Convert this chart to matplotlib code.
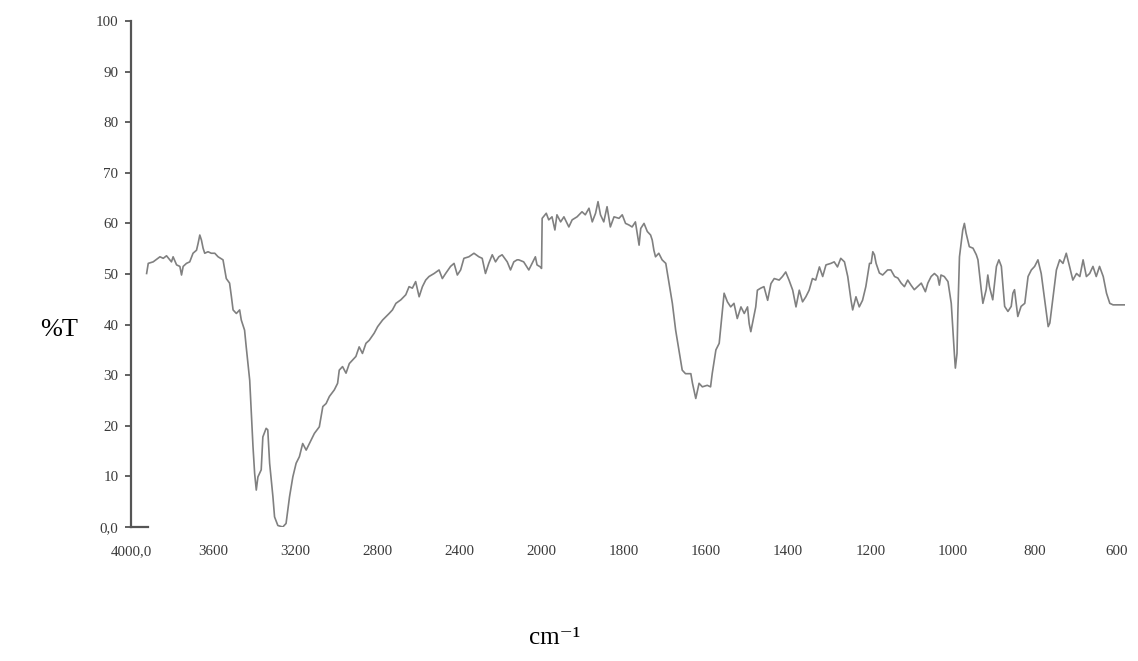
import numpy as np
import matplotlib
matplotlib.use("Agg")
import matplotlib.pyplot as plt

# IR spectrum, %T vs wavenumber
# 4000-2100 cm-1 : O-H / N-H region
wn_high = [3924, 3916, 3892, 3859, 3843, 3827, 3803, 3795, 3778, 3762,
           3754, 3746, 3730, 3714, 3698, 3681, 3673, 3665, 3657, 3649,
           3641, 3625, 3609, 3592, 3576, 3552, 3536, 3520, 3511, 3503,
           3487, 3471, 3463, 3447, 3439, 3422, 3414, 3406, 3398, 3390,
           3382, 3366, 3358, 3342, 3334, 3325, 3309, 3301, 3285, 3261,
           3245, 3228, 3212, 3196, 3180, 3164, 3147, 3123, 3107, 3083,
           3066, 3050, 3034, 3010, 2994, 2986, 2970, 2953, 2937, 2905,
           2889, 2873, 2856, 2840, 2816, 2799, 2775, 2743, 2727, 2710,
           2686, 2662, 2646, 2630, 2614, 2597, 2581, 2565, 2549, 2524,
           2500, 2484, 2468, 2444, 2427, 2411, 2395, 2379, 2355, 2330,
           2306, 2290, 2274, 2258, 2241, 2225, 2209, 2193, 2168, 2152,
           2136, 2120]
t_high = [50.1, 52.1, 52.4, 53.4, 53.1, 53.6, 52.4, 53.4, 51.8, 51.5,
          49.8, 51.5, 52.1, 52.4, 54.1, 54.7, 56.1, 57.7, 56.7, 55.1,
          54.1, 54.4, 54.1, 54.1, 53.4, 52.8, 49.1, 48.2, 45.5, 42.9,
          42.2, 42.9, 40.9, 38.9, 35.6, 29.0, 22.5, 15.9, 10.6, 7.3,
          9.9, 11.3, 17.8, 19.5, 19.2, 12.6, 6.0, 2.0, 0.3, 0.0,
          0.7, 6.0, 9.9, 12.6, 13.9, 16.5, 15.2, 17.2, 18.5, 19.8,
          23.8, 24.4, 25.8, 27.1, 28.4, 31.0, 31.7, 30.4, 32.3, 33.7,
          35.6, 34.3, 36.3, 36.9, 38.3, 39.6, 40.9, 42.2, 42.9, 44.2,
          44.9, 45.9, 47.5, 47.2, 48.5, 45.5, 47.5, 48.8, 49.5, 50.1,
          50.8, 49.1, 50.1, 51.5, 52.1, 49.8, 50.8, 53.1, 53.4, 54.1,
          53.4, 53.1, 50.1, 52.1, 53.8, 52.4, 53.4, 53.8, 52.4, 50.8,
          52.4, 52.8]

# 2112-1200 cm-1
wn_mid = [2112, 2088, 2063, 2047, 2031, 2023, 2007, 2001, 1999, 1989,
          1983, 1975, 1968, 1963, 1954, 1946, 1934, 1926, 1914, 1902,
          1894, 1885, 1877, 1869, 1863, 1857, 1849, 1841, 1833, 1824,
          1812, 1804, 1796, 1788, 1780, 1772, 1763, 1759, 1751, 1743,
          1735, 1731, 1727, 1723, 1715, 1707, 1698, 1690, 1682, 1674,
          1666, 1658, 1650, 1637, 1633, 1625, 1617, 1609, 1597, 1589,
          1585, 1576, 1568, 1560, 1556, 1548, 1540, 1532, 1524, 1515,
          1507, 1499, 1495, 1491, 1487, 1479, 1475, 1467, 1459, 1450,
          1442, 1434, 1422, 1414, 1406, 1398, 1389, 1381, 1373, 1365,
          1357, 1349, 1341, 1333, 1324, 1316, 1308, 1296, 1288, 1280,
          1272, 1263, 1255, 1247, 1243, 1235, 1227, 1219, 1211, 1202]
t_mid = [52.8, 52.4, 50.8, 52.1, 53.4, 51.8, 51.4, 51.1, 61.0, 62.0,
         60.7, 61.3, 58.7, 61.7, 60.3, 61.3, 59.3, 60.7, 61.3, 62.3,
         61.7, 63.0, 60.3, 62.0, 64.3, 61.7, 60.3, 63.3, 59.3, 61.3,
         61.0, 61.7, 60.0, 59.7, 59.3, 60.3, 55.7, 59.0, 60.0, 58.4,
         57.7, 56.7, 54.7, 53.4, 54.1, 52.8, 52.1, 48.1, 44.2, 38.9,
         35.0, 31.0, 30.3, 30.3, 28.4, 25.4, 28.4, 27.7, 28.0, 27.7,
         30.3, 35.0, 36.3, 42.9, 46.2, 44.5, 43.5, 44.2, 41.2, 43.5,
         42.2, 43.5, 40.2, 38.6, 40.2, 43.5, 46.8, 47.2, 47.5, 44.8,
         48.1, 49.1, 48.8, 49.5, 50.4, 48.8, 46.8, 43.5, 46.8, 44.5,
         45.5, 46.8, 49.1, 48.8, 51.4, 49.5, 51.8, 52.1, 52.4, 51.4,
         53.1, 52.4, 49.5, 44.8, 42.9, 45.5, 43.5, 44.8, 47.5, 52.1]

# 1200-580 cm-1 : fingerprint
wn_low = [1198, 1194, 1190, 1186, 1178, 1170, 1158, 1150, 1141, 1133,
          1125, 1117, 1109, 1101, 1093, 1085, 1076, 1066, 1060, 1052,
          1044, 1036, 1032, 1028, 1020, 1011, 1003, 999, 995, 993,
          989, 987, 983, 975, 971, 967, 959, 950, 942, 938,
          930, 926, 918, 914, 910, 902, 893, 887, 881, 877,
          873, 865, 857, 853, 849, 841, 833, 824, 816, 808,
          800, 792, 784, 776, 767, 763, 755, 747, 739, 731,
          723, 715, 707, 698, 690, 682, 674, 666, 658, 650,
          642, 633, 625, 617, 609, 580]
t_low = [52.1, 54.4, 53.8, 52.1, 50.2, 49.8, 50.8, 50.8, 49.5, 49.2,
         48.2, 47.5, 48.8, 47.8, 46.9, 47.5, 48.2, 46.5, 48.2, 49.5,
         50.1, 49.5, 47.8, 49.8, 49.5, 48.5, 44.2, 38.9, 33.7, 31.4,
         34.3, 42.2, 53.4, 58.7, 60.0, 58.1, 55.4, 55.1, 53.8, 52.8,
         46.9, 44.2, 46.9, 49.8, 47.5, 44.9, 51.5, 52.8, 51.5, 47.5,
         43.6, 42.6, 43.6, 46.2, 46.9, 41.6, 43.6, 44.2, 49.5, 50.8,
         51.5, 52.8, 50.1, 45.2, 39.6, 40.3, 45.5, 50.8, 52.8, 52.1,
         54.1, 51.5, 48.8, 50.1, 49.5, 52.8, 49.5, 50.1, 51.5, 49.5,
         51.5, 49.5, 46.2, 44.2, 43.9, 43.9]

x_ticks = [4000, 3600, 3200, 2800, 2400, 2000, 1800, 1600, 1400, 1200, 1000, 800, 600]
x_labels = ["4000,0", "3600", "3200", "2800", "2400", "2000", "1800",
            "1600", "1400", "1200", "1000", "800", "600"]
y_ticks = [0, 10, 20, 30, 40, 50, 60, 70, 80, 90, 100]
y_labels = ["0,0", "10", "20", "30", "40", "50", "60", "70", "80", "90", "100"]

wn = np.array(wn_high + wn_mid + wn_low, dtype=float)
tr = np.array(t_high + t_mid + t_low, dtype=float)


# spectrometer scale: below 2000 cm-1 the axis is stretched x2
def fwd(w):
    w = np.asarray(w, dtype=float)
    return np.where(w >= 2000, w, 2 * w - 2000)


def inv(u):
    u = np.asarray(u, dtype=float)
    return np.where(u >= 2000, u, (u + 2000) / 2)


axis_col = "#555555"
tick_font = ["Liberation Serif", "DejaVu Serif"]

fig = plt.figure(figsize=(11.38, 6.61), dpi=100)
ax = fig.add_axes([131 / 1138, 1 - 527 / 661, (1125 - 131) / 1138, 506 / 661])

ax.plot(wn, tr, color="#808080", lw=1.2)

ax.set_xscale("function", functions=(fwd, inv))
ax.set_xlim(4000, 580)
ax.set_ylim(0, 100)

for s in ["top", "right", "bottom"]:
    ax.spines[s].set_visible(False)
ax.spines["left"].set_color(axis_col)
ax.spines["left"].set_linewidth(1.6)

ax.set_xticks(x_ticks)
ax.set_xticklabels(x_labels, family=tick_font, fontsize=10.8, color="#3a3a3a")
ax.set_yticks(y_ticks)
ax.set_yticklabels(y_labels, family=tick_font, fontsize=10.8, color="#3a3a3a")
ax.tick_params(axis="x", length=0, pad=13)
ax.tick_params(axis="y", length=4, width=1.3, color=axis_col, pad=5)
ax.minorticks_off()

# short stub of the x axis at the origin
ax.axhline(0, xmin=0, xmax=0.017, color=axis_col, lw=1.6, clip_on=False)

fig.text(59 / 1138, 1 - 330 / 661, "%T", family=tick_font, fontsize=19,
         ha="center", va="center")
fig.text(555 / 1138, 1 - 638 / 661, "cm⁻¹", family=tick_font, fontsize=18,
         ha="center", va="center")

fig.savefig("out.png", dpi=100)
